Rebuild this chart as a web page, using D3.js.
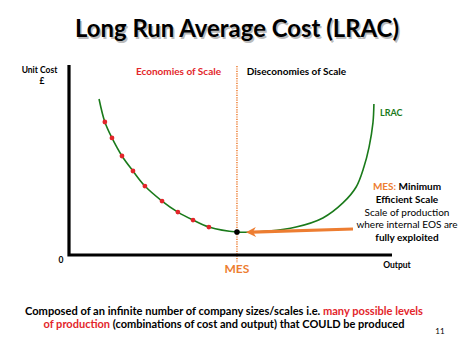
<!DOCTYPE html>
<html><head><meta charset="utf-8">
<script src="https://cdn.jsdelivr.net/npm/d3@7"></script>
<style>html,body{margin:0;padding:0;background:#fff;}svg{display:block;}</style>
</head><body>
<svg id="c" width="474" height="355"></svg>
<script>
// LRAC curve: output (0-100) vs unit cost (0-100)
const curveOutput = [9.3, 11.1, 13.3, 16.4, 19.8, 23.5, 28.8, 33.7, 38.4, 43.3, 52.0, 61.9, 70.3, 78.6, 84.8, 88.9, 91.3, 92.9, 94.1, 94.4];
const curveCost   = [82.1, 70.0, 61.6, 52.1, 44.2, 36.3, 28.4, 22.6, 18.4, 14.7, 12.1, 12.6, 14.7, 19.5, 27.4, 35.8, 46.3, 56.8, 69.5, 79.5];
// Red dots: sample company sizes on the falling part
const dotOutput = [11.1, 13.3, 16.4, 19.8, 23.5, 28.8, 33.7, 38.4, 43.3];
const dotCost   = [70.0, 61.6, 52.1, 44.2, 36.3, 28.4, 22.6, 18.4, 14.7];
// Minimum efficient scale
const mesOutput = [52.0];
const mesCost = [12.1];
const title = "Long Run Average Cost (LRAC)";
const yLabel = ["Unit Cost", "£"];
const xLabel = "Output";
const regionLabels = ["Economies of Scale", "Diseconomies of Scale"];
const annotation = [["MES:", " Minimum"], ["Efficient Scale"], ["Scale of production"], ["where internal EOS are"], ["fully exploited"]];

const svg = d3.select("#c");
const F = "Lato, 'Open Sans', sans-serif";
const ORANGE = "#ed7d31", RED = "#e3262b", GREEN = "#1a7a1a";

const x = d3.scaleLinear().domain([0, 100]).range([69, 392]);
const y = d3.scaleLinear().domain([0, 100]).range([255, 65]);

// Title with shadow
[["#bbb", 1.5, 1.5], ["#000", 0, 0]].forEach(([c, dx, dy]) => {
  svg.append("text").attr("x", 237 + dx).attr("y", 37 + dy).attr("text-anchor", "middle")
    .attr("font-family", F).attr("font-weight", "bold").attr("font-size", 24)
    .attr("textLength", 324).attr("lengthAdjust", "spacingAndGlyphs")
    .attr("fill", c).text(title);
});

// MES dotted line
svg.append("line").attr("x1", x(mesOutput[0])).attr("x2", x(mesOutput[0]))
  .attr("y1", y(100) + 1).attr("y2", 263)
  .attr("stroke", ORANGE).attr("stroke-width", 1.5).attr("stroke-dasharray", "1.2,1.2");

// Axes
const g = svg.append("g").attr("stroke", "#000").attr("stroke-width", 3.2).attr("fill", "none");
g.append("path").attr("d", `M${x(0)},${y(100)}V${y(0)}H${x(100)}`);

// Curve
const pts = curveOutput.map((o, i) => [x(o), y(curveCost[i])]);
svg.append("path").attr("d", d3.line().curve(d3.curveCatmullRom.alpha(0.5))(pts))
  .attr("fill", "none").attr("stroke", GREEN).attr("stroke-width", 1.6);

// Red dots
svg.selectAll("circle.d").data(dotOutput).join("circle").attr("class", "d")
  .attr("cx", (d) => x(d)).attr("cy", (d, i) => y(dotCost[i])).attr("r", 2.4).attr("fill", RED);

// MES point
svg.append("circle").attr("cx", x(mesOutput[0])).attr("cy", y(mesCost[0])).attr("r", 2.8).attr("fill", "#000");

// Arrow
const ax0 = 353, ay0 = 229, ax1 = x(mesOutput[0]) + 9, ay1 = y(mesCost[0]) + 0.3;
svg.append("line").attr("x1", ax0).attr("y1", ay0).attr("x2", ax1 + 6).attr("y2", ay1 - 0.2)
  .attr("stroke", ORANGE).attr("stroke-width", 3.2);
const ang = Math.atan2(ay0 - ay1, ax0 - ax1);
const hl = 10, hw = 5;
const bx = ax1 + hl * Math.cos(ang), by = ay1 + hl * Math.sin(ang);
svg.append("path").attr("d",
  `M${ax1},${ay1}L${bx - hw * Math.sin(ang)},${by + hw * Math.cos(ang)}L${bx - 3 * Math.cos(ang)},${by - 3 * Math.sin(ang)}L${bx + hw * Math.sin(ang)},${by - hw * Math.cos(ang)}Z`)
  .attr("fill", ORANGE);

// Text helper
function txt(xp, yp, s, opt = {}) {
  return svg.append("text").attr("x", xp).attr("y", yp)
    .attr("font-family", F).attr("font-size", opt.size || 9)
    .attr("font-weight", opt.bold === false ? "normal" : "bold")
    .attr("text-anchor", opt.anchor || "start").attr("fill", opt.fill || "#000").text(s);
}

txt(39.5, 73, yLabel[0], {size: 8.5, anchor: "middle"});
txt(42, 84, yLabel[1], {size: 8.5, anchor: "middle"});
txt(61, 263, "0", {size: 8.5, anchor: "middle"});
txt(397, 268, xLabel, {size: 8.5, anchor: "middle"});
txt(178.5, 75, regionLabels[0], {size: 10, anchor: "middle", fill: RED});
txt(296.5, 75, regionLabels[1], {size: 10, anchor: "middle"});
txt(380, 115.5, "LRAC", {size: 9, fill: GREEN});
txt(x(mesOutput[0]), 273, "MES", {size: 12, anchor: "middle", fill: ORANGE});

// Annotation
const ay = [189.5, 202.5, 215.5, 228, 240.5];
annotation.forEach((parts, i) => {
  const t = svg.append("text").attr("x", 407).attr("y", ay[i]).attr("text-anchor", "middle")
    .attr("font-family", F).attr("font-size", 10)
    .attr("font-weight", (i === 2 || i === 3) ? "normal" : "bold");
  parts.forEach((p, j) => t.append("tspan").attr("fill", (i === 0 && j === 0) ? ORANGE : "#000").text(p));
});

// Footer
const foot = [
  [["Composed of an infinite number of company sizes/scales i.e. ", "#000"], ["many possible levels", RED]],
  [["of production", RED], [" (combinations of cost and output) that COULD be produced", "#000"]]
];
const fy = [314.5, 327.5], fw = [398, 361];
foot.forEach((parts, i) => {
  const t = svg.append("text").attr("x", 224).attr("y", fy[i]).attr("text-anchor", "middle")
    .attr("font-family", F).attr("font-size", 10.5).attr("font-weight", "bold")
    .attr("textLength", fw[i]).attr("lengthAdjust", "spacingAndGlyphs");
  parts.forEach(([s, c]) => t.append("tspan").attr("fill", c).text(s));
});
txt(440, 334, "11", {size: 8, bold: false, anchor: "middle"});
</script>
</body></html>
